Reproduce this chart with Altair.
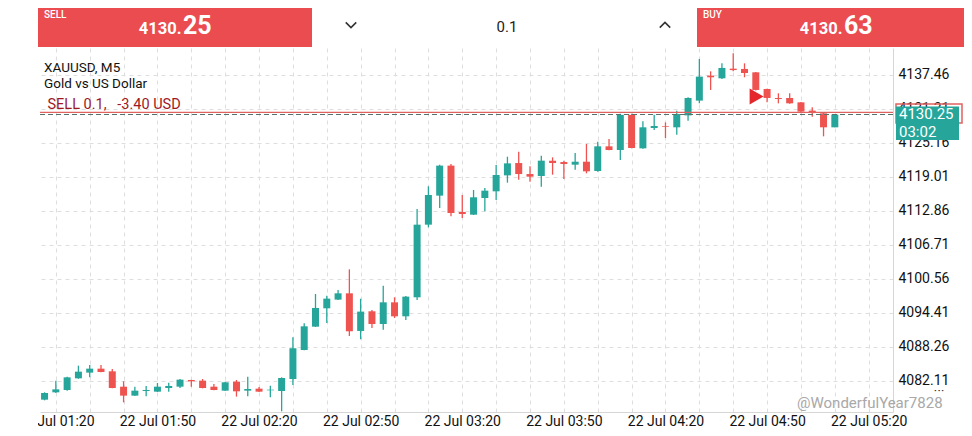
import json
import altair as alt
import pandas as pd

# ---------------- data ----------------
symbol = "XAUUSD, M5"
description = "Gold vs US Dollar"
sell_price = 4130.25
buy_price = 4130.63
lot_size = 0.1
position_side = "SELL"
position_pnl = -3.40
timer_text = "03:02"
entry_index = 63.07
entry_price = 4133.52
watermark = "@WonderfulYear7828"

opens = [4078.67, 4080.00, 4080.42, 4082.53, 4083.56, 4084.28, 4083.80, 4081.02, 4079.40, 4080.24,
         4080.12, 4080.78, 4081.02, 4082.23, 4082.11, 4081.02, 4080.30, 4081.93, 4080.30, 4080.66,
         4080.36, 4080.24, 4082.41, 4087.66, 4091.88, 4095.20, 4096.77, 4097.91, 4091.10, 4094.66,
         4092.36, 4096.28, 4093.75, 4097.19, 4110.33, 4115.58, 4121.01, 4112.62, 4112.14, 4115.15,
         4116.36, 4119.25, 4121.48, 4119.49, 4119.13, 4121.91, 4121.66, 4121.18, 4121.72, 4120.04,
         4124.50, 4123.84, 4130.20, 4124.14, 4127.82, 4128.12, 4127.94, 4130.10, 4132.77, 4137.29,
         4136.81, 4138.55, 4138.50, 4137.89, 4134.88, 4133.25, 4133.25, 4132.46, 4130.96, 4130.47,
         4127.94]
highs = [4080.00, 4082.11, 4082.83, 4084.82, 4084.94, 4084.94, 4084.22, 4081.99, 4081.02, 4081.15,
         4081.69, 4081.75, 4082.41, 4082.29, 4082.41, 4081.51, 4081.93, 4082.23, 4082.83, 4080.96,
         4081.21, 4082.71, 4089.95, 4092.48, 4097.79, 4097.49, 4098.51, 4102.25, 4096.95, 4094.90,
         4099.30, 4097.19, 4097.43, 4113.17, 4117.27, 4121.19, 4121.31, 4115.70, 4116.60, 4116.96,
         4121.12, 4122.63, 4123.53, 4120.88, 4122.81, 4122.51, 4121.91, 4123.29, 4124.92, 4125.34,
         4125.82, 4130.40, 4130.40, 4129.02, 4130.23, 4128.84, 4130.95, 4133.40, 4140.30, 4138.07,
         4139.52, 4141.33, 4139.52, 4137.95, 4134.94, 4134.09, 4134.09, 4132.52, 4131.56, 4130.66,
         4130.25]
lows = [4078.55, 4079.88, 4080.30, 4082.45, 4082.71, 4083.62, 4080.72, 4078.19, 4079.34, 4079.28,
        4080.06, 4080.12, 4080.78, 4081.02, 4080.72, 4080.36, 4080.24, 4079.22, 4079.28, 4080.06,
        4079.09, 4076.56, 4081.33, 4087.60, 4091.82, 4092.55, 4096.71, 4090.19, 4089.59, 4091.64,
        4091.34, 4093.45, 4093.09, 4096.71, 4109.85, 4113.35, 4111.84, 4111.54, 4112.08, 4112.74,
        4114.79, 4117.93, 4118.47, 4118.11, 4117.20, 4119.37, 4118.59, 4120.28, 4119.61, 4119.92,
        4123.78, 4122.03, 4124.14, 4124.08, 4127.45, 4126.01, 4126.61, 4129.15, 4132.28, 4134.70,
        4136.69, 4138.07, 4136.99, 4134.58, 4132.46, 4132.28, 4132.22, 4130.47, 4129.87, 4126.31,
        4127.94]
closes = [4079.88, 4080.54, 4082.71, 4083.74, 4084.28, 4083.68, 4080.78, 4079.40, 4080.30, 4080.42,
          4081.02, 4081.15, 4082.29, 4081.99, 4080.78, 4080.42, 4081.81, 4080.18, 4080.60, 4080.12,
          4080.48, 4082.59, 4087.96, 4091.94, 4095.26, 4096.95, 4097.91, 4091.04, 4094.60, 4092.36,
          4096.28, 4093.75, 4097.31, 4110.33, 4115.70, 4121.01, 4112.44, 4112.26, 4115.28, 4116.48,
          4119.31, 4121.42, 4119.49, 4119.01, 4121.91, 4121.48, 4121.30, 4121.72, 4119.98, 4124.50,
          4123.84, 4130.20, 4124.20, 4127.94, 4128.18, 4128.00, 4130.35, 4133.25, 4137.11, 4136.99,
          4138.68, 4138.30, 4137.77, 4134.70, 4133.25, 4133.07, 4132.28, 4130.78, 4130.60, 4127.94,
          4130.25]

time_labels = ["22 Jul 01:20", "22 Jul 01:50", "22 Jul 02:20", "22 Jul 02:50", "22 Jul 03:20",
               "22 Jul 03:50", "22 Jul 04:20", "22 Jul 04:50", "22 Jul 05:20"]
grid_index = [1, 4, 7, 10, 13, 16, 19, 22, 25, 28, 31, 34, 37, 40, 43, 46, 49, 52, 55, 58, 61,
              64, 67, 70, 73]
y_ticks = [4082.11, 4088.26, 4094.41, 4100.56, 4106.71, 4112.86, 4119.01, 4125.16, 4131.31, 4137.46]

# ---------------- styling ----------------
TEAL = "#26A69A"
RED = "#EF5350"
BAR_RED = "#EA4C50"
GRID = "#DEDEDE"
W, H = 853, 364

df = pd.DataFrame({"i": list(range(len(opens))), "open": opens, "high": highs,
                   "low": lows, "close": closes})
df["dir"] = ["up" if c >= o else "down" for o, c in zip(opens, closes)]

xscale = alt.Scale(domain=[0.04, 74.71], nice=False, zero=False)
yscale = alt.Scale(domain=[4076.44, 4142.29], nice=False, zero=False)
color = alt.Color("dir:N", scale=alt.Scale(domain=["up", "down"], range=[TEAL, RED]), legend=None)

label_expr = ("(datum.value - 1) % 9 == 0 ? " + json.dumps(time_labels) +
              "[(datum.value - 1) / 9] : ''")

x_axis = alt.Axis(values=grid_index, labelExpr=label_expr, grid=True, gridDash=[4, 4],
                  gridColor=GRID, gridWidth=1, domainColor="#D6D6D6", ticks=False,
                  labelPadding=2, labelFontSize=14, labelColor="#111", labelFlush=False,
                  labelOverlap=False, title=None, zindex=0, labelFont="Roboto")
y_axis = alt.Axis(orient="right", values=y_ticks, format=".2f", grid=True, gridDash=[4, 4],
                  gridColor=GRID, gridWidth=1, domainColor="#D6D6D6", ticks=False,
                  labelPadding=5, labelFontSize=14, labelColor="#111", labelFlush=False,
                  labelOverlap=False, title=None, zindex=0, labelFont="Roboto")


def X(field):
    return alt.X(field, scale=xscale, axis=x_axis)


def Y(field):
    return alt.Y(field, scale=yscale, axis=y_axis)


wicks = alt.Chart(df).mark_rule(clip=True, strokeWidth=1.3).encode(
    x=X("i:Q"), y=Y("low:Q"), y2="high:Q", color=color)
bodies = alt.Chart(df).mark_bar(clip=True, size=7).encode(
    x=X("i:Q"), y=Y("open:Q"), y2="close:Q", color=color)

ask_line = alt.Chart(pd.DataFrame({"p": [buy_price]})).mark_rule(
    color="#E0625F", strokeWidth=1.3).encode(y=Y("p:Q"))
bid_line = alt.Chart(pd.DataFrame({"p": [sell_price]})).mark_rule(
    color="#56706A", strokeWidth=1.1, strokeDash=[5, 3]).encode(y=Y("p:Q"))

entry = alt.Chart(pd.DataFrame({"i": [entry_index], "p": [entry_price]})).mark_point(
    shape="triangle-right", filled=True, size=260, color="#E5262B", opacity=1).encode(
    x=X("i:Q"), y=Y("p:Q"))

one = pd.DataFrame({"k": [0]})


def txt(text, x, y, size=14, color="#111", weight="normal", align="left",
        baseline="alphabetic", font="Roboto", opacity=1):
    return alt.Chart(one).mark_text(text=text, align=align, baseline=baseline, fontSize=size,
                                    color=color, fontWeight=weight, font=font,
                                    opacity=opacity).encode(x=alt.value(x), y=alt.value(y))


def box(x1, x2, y1, y2, fill, stroke=None, fill_opacity=1, sw=0):
    kw = dict(color=fill, fillOpacity=fill_opacity, strokeWidth=sw)
    if stroke:
        kw["stroke"] = stroke
    return alt.Chart(one).mark_rect(**kw).encode(
        x=alt.value(x1), x2=alt.value(x2), y=alt.value(y1), y2=alt.value(y2))


def chevron(path, x, y):
    return alt.Chart(one).mark_point(shape=path, filled=False, size=110, strokeWidth=1.6,
                                     color="#333", opacity=1).encode(
        x=alt.value(x), y=alt.value(y))


sell_s = f"{sell_price:.2f}"
buy_s = f"{buy_price:.2f}"

layers = [
    wicks, bodies, ask_line, bid_line, entry,
    # top trade bar
    box(-2, 272, -48, -1, BAR_RED),
    box(657, 930, -48, -1, BAR_RED),
    txt("SELL", 4, -30.5, size=10, color="white", weight=500),
    txt(sell_s[:-2], 141.5, -14.5, size=16.5, color="white", weight="bold", align="right"),
    txt(sell_s[-2:], 143, -14.5, size=25, color="white", weight="bold"),
    txt("BUY", 663, -30.5, size=10, color="white", weight=500),
    txt(buy_s[:-2], 802.5, -14.5, size=16.5, color="white", weight="bold", align="right"),
    txt(buy_s[-2:], 804, -14.5, size=25, color="white", weight="bold"),
    txt(f"{lot_size}", 467, -21.5, size=15, color="#222", align="center", baseline="middle"),
    chevron("M-1,-0.5L0,0.5L1,-0.5", 311, -23),
    chevron("M-1,0.5L0,-0.5L1,0.5", 625, -23),
    # symbol info
    txt(symbol, 4, 24, size=13.5),
    txt(description, 4, 39.5, size=13.5),
    txt(f"{position_side} {lot_size},\u00a0\u00a0 {position_pnl:.2f} USD", 7.5, 61.3,
        size=14.5, color="#A0171F"),
    # price labels on the right
    box(856, 922, 56, 75, "white", stroke="#E0625F", fill_opacity=0, sw=1.5),
    box(856, 919, 58.5, 92, TEAL),
    txt(sell_s, 859, 71.3, size=15, color="white"),
    txt(timer_text, 859, 88.7, size=15, color="white"),
    # cover for clipped first time label
    box(-40, -2, 366, 395, "white"),
    # watermark + menu dots
    txt("• • •", 899, 343, size=6, color="#333", align="center", baseline="middle",
        weight="bold"),
    txt(watermark, 757, 360, size=15, color="#A0A0A0", opacity=0.9),
]

chart = alt.layer(*layers).properties(
    width=W, height=H,
    autosize=alt.AutoSizeParams(type="none"),
    padding={"left": 32, "top": 40, "right": 71, "bottom": 16},
).configure(font="Roboto").configure_view(stroke=None)

chart.save("out.html", embed_options={"renderer": "svg", "actions": False})
